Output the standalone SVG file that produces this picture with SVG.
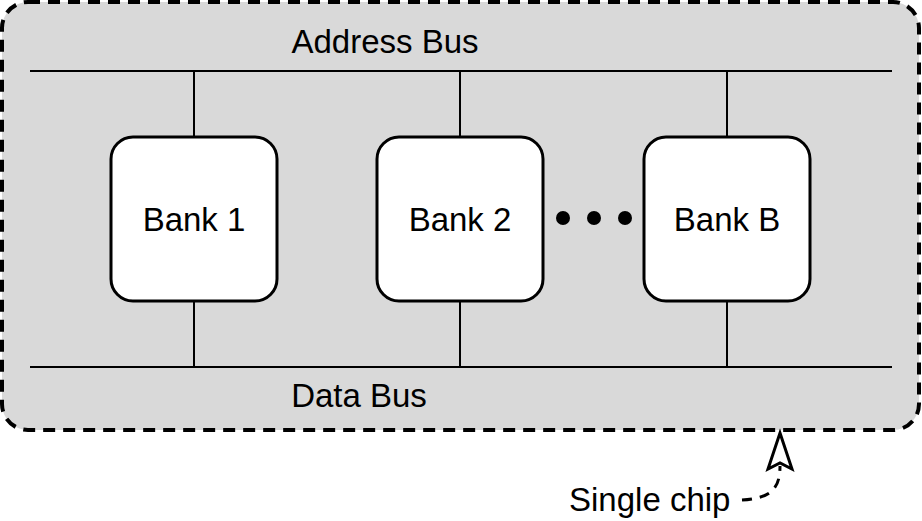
<svg xmlns="http://www.w3.org/2000/svg" width="922" height="521" viewBox="0 0 922 521">
<style>
text{font-family:"Liberation Sans",Arial,sans-serif;font-size:33px;fill:#000}
.bank{fill:#fff;stroke:#000;stroke-width:3}
.ln{stroke:#000;stroke-width:2;fill:none}
</style>
<g id="chip">
<rect x="2" y="2" width="917" height="428" rx="26" fill="#d9d9d9" stroke="#000" stroke-width="4" stroke-dasharray="12 8"/>
</g>
<g id="connectors">
<line class="ln" x1="30" y1="71" x2="892" y2="71"/>
<line class="ln" x1="30" y1="367" x2="892" y2="367"/>
<line class="ln" x1="194" y1="71" x2="194" y2="137"/>
<line class="ln" x1="460" y1="71" x2="460" y2="137"/>
<line class="ln" x1="727" y1="71" x2="727" y2="137"/>
<line class="ln" x1="194" y1="301" x2="194" y2="367"/>
<line class="ln" x1="460" y1="301" x2="460" y2="367"/>
<line class="ln" x1="727" y1="301" x2="727" y2="367"/>
<path d="M742,500 C770,498 780,490 780,466" fill="none" stroke="#000" stroke-width="3" stroke-dasharray="10 8"/>
<path d="M780,433 L792,469 L780,463 L768,469 Z" fill="#fff" stroke="#000" stroke-width="3" stroke-linejoin="miter"/>
</g>
<text x="385" y="53" text-anchor="middle">Address Bus</text>
<text x="359" y="407" text-anchor="middle">Data Bus</text>
<g id="bank1">
<rect class="bank" x="111" y="137" width="166" height="164" rx="22"/>
<text x="194" y="231" text-anchor="middle">Bank 1</text>
</g>
<g id="bank2">
<rect class="bank" x="377" y="137" width="166" height="164" rx="22"/>
<text x="460" y="231" text-anchor="middle">Bank 2</text>
</g>
<g id="dots">
<circle cx="563" cy="218" r="7"/>
<circle cx="594" cy="218" r="7"/>
<circle cx="625" cy="218" r="7"/>
</g>
<g id="bankB">
<rect class="bank" x="644" y="137" width="166" height="164" rx="22"/>
<text x="727" y="231" text-anchor="middle">Bank B</text>
</g>
<g id="label">
<text x="569" y="511">Single chip</text>
</g>
</svg>
